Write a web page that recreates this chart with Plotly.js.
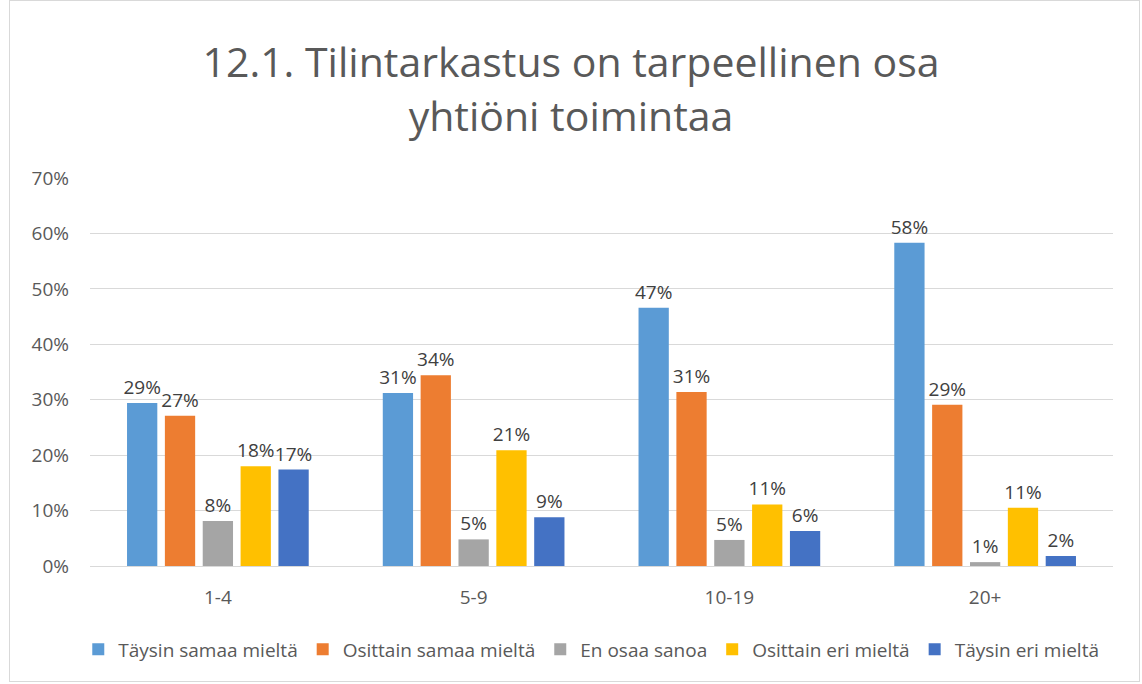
<!DOCTYPE html>
<html>
<head>
<meta charset="utf-8">
<script src="https://cdn.plot.ly/plotly-3.0.1.min.js"></script>
<style>
html,body{margin:0;padding:0;background:#fff;}
#chart{width:1142px;height:684px;box-sizing:border-box;}
#frame{position:absolute;left:9px;top:0;width:1131px;height:682px;border:1px solid #d9d9d9;box-sizing:border-box;pointer-events:none;}
</style>
</head>
<body>
<div id="chart"></div>
<div id="frame"></div>
<script>
const categories = ["1-4", "5-9", "10-19", "20+"];
const seriesNames = ["Täysin samaa mieltä", "Osittain samaa mieltä", "En osaa sanoa", "Osittain eri mieltä", "Täysin eri mieltä"];
const taysinSamaa = [0.294, 0.312, 0.466, 0.583];
const osittainSamaa = [0.271, 0.344, 0.314, 0.291];
const enOsaa = [0.081, 0.048, 0.047, 0.007];
const osittainEri = [0.180, 0.209, 0.111, 0.105];
const taysinEri = [0.174, 0.088, 0.063, 0.018];
const colors = ["#5b9bd5", "#ed7d31", "#a5a5a5", "#ffc000", "#4472c4"];
const seriesValues = [taysinSamaa, osittainSamaa, enOsaa, osittainEri, taysinEri];

const FONT = "Open Sans, Liberation Sans, sans-serif";

const traces = seriesValues.map((vals, i) => ({
  type: "bar",
  name: seriesNames[i],
  x: categories,
  y: vals,
  marker: {color: colors[i]},
  texttemplate: "%{y:.0%}",
  textposition: "outside",
  constraintext: "none",
  cliponaxis: false,
  textfont: {family: FONT, size: 19, color: "#404040"},
  hoverinfo: "x+y+name"
}));

const layout = {
  width: 1142, height: 684,
  margin: {l: 90, r: 29, t: 178, b: 118},
  paper_bgcolor: "#ffffff",
  plot_bgcolor: "#ffffff",
  title: {
    text: "12.1. Tilintarkastus on tarpeellinen osa<br>yhtiöni toimintaa",
    font: {family: FONT, size: 41, color: "#595959"},
    x: 0.5, xanchor: "center", y: 0.887, yanchor: "middle"
  },
  barmode: "group",
  bargap: 0.26,
  bargroupgap: 0.2,
  xaxis: {
    type: "category",
    showgrid: false,
    showline: true, linecolor: "#d9d9d9", linewidth: 1,
    ticks: "",
    ticklabelstandoff: 14,
    tickfont: {family: FONT, size: 19, color: "#595959"}
  },
  yaxis: {
    range: [0, 0.7],
    dtick: 0.1,
    tickformat: ".0%",
    showgrid: true, gridcolor: "#d9d9d9", gridwidth: 1,
    zeroline: false,
    showline: false,
    ticks: "",
    ticklabelstandoff: 20,
    tickfont: {family: FONT, size: 19, color: "#595959"}
  },
  showlegend: true,
  legend: {
    orientation: "h",
    x: 0.49, xanchor: "center",
    y: -0.215, yanchor: "middle",
    font: {family: FONT, size: 19, color: "#595959"},
    itemwidth: 20,
    tracegroupgap: 0,
    traceorder: "normal"
  }
};

Plotly.newPlot("chart", traces, layout, {displayModeBar: false, responsive: false});
</script>
</body>
</html>
